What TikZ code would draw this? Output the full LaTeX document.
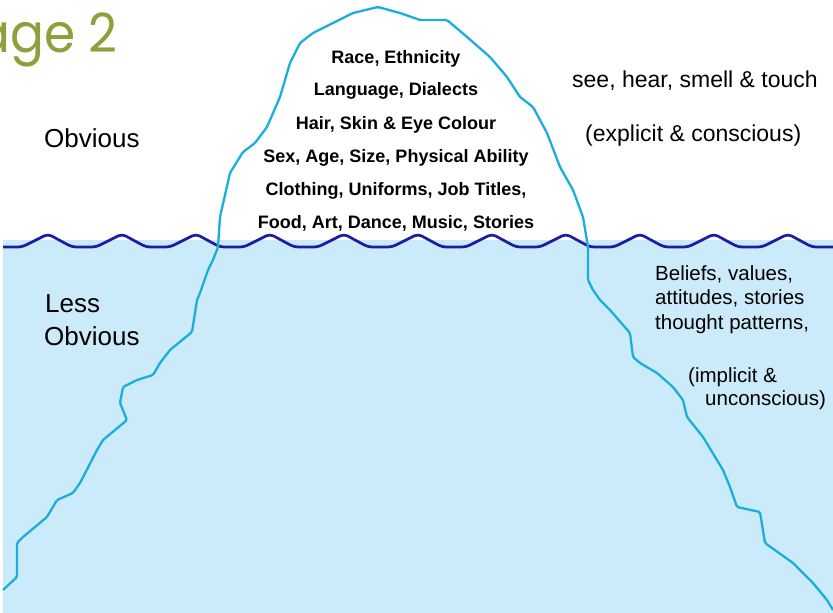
\documentclass[tikz,border=0pt]{standalone}
\usepackage{fontspec}
\setmainfont{Liberation Sans}
\newfontfamily\titlefont{Poppins}
\usepackage{graphicx}
\usepackage{tikz}
\usetikzlibrary{positioning, calc}
\usepackage{xcolor}

\definecolor{iceline}{RGB}{27,174,220}
\definecolor{sea}{RGB}{204,235,250}
\definecolor{waveblue}{RGB}{28,28,165}
\definecolor{olive}{RGB}{140,160,60}

\begin{document}
\begin{tikzpicture}[x=1pt, y=-1pt,
        tip/.style={font=\fontsize{18}{20}\selectfont\bfseries, inner sep=0pt, anchor=base},
        side/.style={font=\fontsize{26}{28}\selectfont, inner sep=0pt, anchor=base west},
        note/.style={font=\fontsize{23}{25}\selectfont, inner sep=0pt, anchor=base west},
        deep/.style={font=\fontsize{20.5}{23}\selectfont, inner sep=0pt, anchor=base west}]
            \useasboundingbox (0,0) rectangle (833,613);

            % water below the line
            \fill[sea] (3,240) rectangle (833,613);
            \draw[waveblue, line width=2.7pt, rounded corners=4pt]
                (3,247) foreach \k in {0,...,10} {
                    -- ({22+74*\k},247) -- ({48+74*\k},234) -- ({72+74*\k},247) } -- (833,247);

            % iceberg outline
            \draw[iceline, line width=2.3pt, line join=round, rounded corners=1.5pt]
                (3,590) -- (17,577) -- (17,543) -- (23,537) -- (47,517) -- (57,500)
                -- (73,493) -- (80,483) -- (97,450) -- (103,440) -- (127,420) -- (120,403)
                -- (123,387) -- (137,380) -- (153,375) -- (160,363) -- (170,350) -- (192,332)
                -- (197,300) -- (200,293) -- (208,270) -- (213,260) -- (218,247) -- (220,217)
                -- (230,173) -- (243,152) -- (255,143) -- (267,127) -- (280,97) -- (290,63)
                -- (300,43) -- (313,33) -- (333,23) -- (353,13) -- (378,7) -- (400,13)
                -- (420,20) -- (447,20) -- (467,37) -- (490,57) -- (507,77) -- (520,97)
                -- (533,107) -- (547,133) -- (560,167) -- (573,190) -- (583,217) -- (588,247)
                -- (588,280) -- (593,290) -- (600,300) -- (610,310) -- (630,333) -- (633,357)
                -- (640,363) -- (657,373) -- (673,387) -- (683,400) -- (687,417) -- (703,437)
                -- (723,470) -- (730,487) -- (737,507) -- (760,512) -- (765,543) -- (793,563)
                -- (813,583) -- (827,600) -- (833,610);

            % title, cut at the left edge as in the slide
            \node[font=\titlefont\fontsize{54}{58}\selectfont, text=olive, inner sep=0pt, anchor=base east] (title) at (118,52) {\scalebox{0.93}[1]{age 2}};

            % tip of the iceberg
            \node[tip] (race) at (396,63) {Race, Ethnicity};
            \node[tip] (lang) at (396,95) {Language, Dialects};
            \node[tip] (hair) at (396,129) {Hair, Skin \& Eye Colour};
            \node[tip] (sex) at (396,162) {Sex, Age, Size, Physical Ability};
            \node[tip] (cloth) at (396,195) {Clothing, Uniforms, Job Titles,};
            \node[tip] (food) at (396,228) {Food, Art, Dance, Music, Stories};

            % left side
            \node[side] (obv) at (44,147) {Obvious};
            \node[side] (less) at (45,312) {Less};
            \node[side] (lessobv) at (44,345) {Obvious};

            % right side
            \node[note] (senses) at (572,87) {see, hear, smell \& touch};
            \node[note] (explicit) at (585,141) {(explicit \& conscious)};
            \node[deep] (beliefs) at (655,280) {Beliefs, values,};
            \node[deep] (attitudes) at (655,304) {attitudes, stories};
            \node[deep] (thought) at (655,329) {thought patterns,};
            \node[deep] (implicit) at (688,382) {(implicit \&};
            \node[deep] (unconsc) at (705,405) {unconscious)};
        \end{tikzpicture}
\end{document}
